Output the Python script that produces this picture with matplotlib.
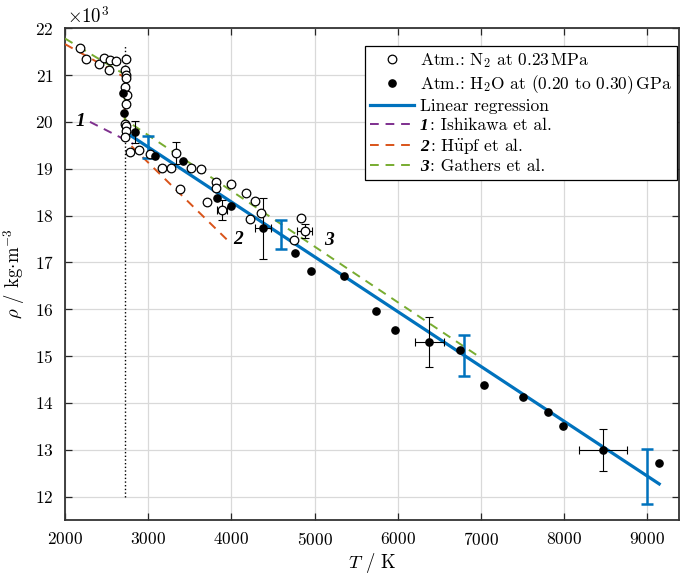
import numpy as np
import matplotlib
matplotlib.use("Agg")
import matplotlib.pyplot as plt
from matplotlib.transforms import IdentityTransform

plt.rcParams['font.family'] = ['cmr10', 'DejaVu Serif']
plt.rcParams['mathtext.fontset'] = 'cm'
plt.rcParams['axes.unicode_minus'] = False
plt.rcParams['axes.formatter.use_mathtext'] = True

# N2 atmosphere (open circles), rho in 10^3 kg/m^3
n2_T = [2179, 2247, 2407, 2467, 2539, 2527, 2619,
        2736, 2716, 2730, 2732, 2722, 2748, 2730, 2722, 2735, 2730, 2722,
        2784, 2887, 3019, 3167, 3279, 3339, 3516, 3636, 3387, 3820, 3820,
        4000, 4176, 4288, 3708, 3888, 4356, 4228, 4748, 4840, 4880]
n2_rho = [21.58, 21.35, 21.23, 21.37, 21.32, 21.10, 21.30,
          21.35, 21.10, 21.00, 20.93, 20.75, 20.57, 20.39, 19.96, 19.91, 19.80, 19.68,
          19.36, 19.41, 19.32, 19.02, 19.02, 19.34, 19.02, 19.00, 18.57, 18.71, 18.58,
          18.68, 18.48, 18.32, 18.29, 18.12, 18.05, 17.93, 17.47, 17.95, 17.68]
# N2 points with error bars
n2e_T = [3339, 3888, 4880]
n2e_rho = [19.34, 18.12, 17.68]
n2e_dT = [0, 60, 90]
n2e_drho = [0.23, 0.21, 0.15]

# H2O atmosphere (filled circles)
h2o_T = [2695, 2707, 2840, 3087, 3420, 3828, 3996, 4380, 4768, 4960, 5348,
         5740, 5965, 6380, 6749, 7037, 7509, 7809, 7989, 8469, 9141]
h2o_rho = [20.61, 20.20, 19.78, 19.28, 19.17, 18.38, 18.21, 17.73, 17.21, 16.82, 16.71,
           15.97, 15.55, 15.30, 15.14, 14.38, 14.13, 13.81, 13.50, 13.00, 12.71]
h2oe_T = [2840, 4380, 6380, 8469]
h2oe_rho = [19.78, 17.73, 15.30, 13.00]
h2oe_dT = [0, 100, 170, 290]
h2oe_drho = [0.23, 0.65, 0.54, 0.445]

# linear regression and its uncertainty
T_melt = 2719
reg_T = [2719, 9142]
reg_rho = [19.79, 12.27]
reg_err_T = [3000, 4600, 6800, 9000]
reg_err_half = [0.24, 0.31, 0.43, 0.59]

# literature
ishikawa_T = [2300, 2820]
ishikawa_rho = [20.00, 19.53]
hupf_T = [2000, 2719, 2719, 3950]
hupf_rho = [21.66, 20.95, 19.62, 17.48]
gathers_T = [2000, 2719, 2719, 7000]
gathers_rho = [21.78, 21.01, 20.05, 14.96]

ref_nums = ['1', '2', '3']
ref_label_T = [2180, 4085, 5175]
ref_label_rho = [20.0, 17.48, 17.46]

blue = '#0072BD'
orange = '#D95319'
green = '#77AC30'
purple = '#7E2F8E'
num_font = dict(family='Liberation Serif', style='italic', weight='bold')

fig = plt.figure(figsize=(6.8, 5.76), dpi=100)
ax = fig.add_axes([65 / 680, 1 - 520 / 576, 614 / 680, (520 - 28.2) / 576])

ax.plot([T_melt, T_melt], [12.0, 21.65], ls=':', color='black', lw=1.0, zorder=2)

dash = (0, (4.5, 3.5))
ax.plot(ishikawa_T, ishikawa_rho, ls=dash, color=purple, lw=1.4, zorder=3,
        label=': Ishikawa et al.')
ax.plot(hupf_T, hupf_rho, ls=dash, color=orange, lw=1.4, zorder=3,
        label=r': H$\ddot{\mathrm{u}}$pf et al.')
ax.plot(gathers_T, gathers_rho, ls=dash, color=green, lw=1.4, zorder=3,
        label=': Gathers et al.')

ax.plot(reg_T, reg_rho, color=blue, lw=2.3, zorder=4, label='Linear regression')
slope = (reg_rho[1] - reg_rho[0]) / (reg_T[1] - reg_T[0])
reg_err_rho = [reg_rho[0] + slope * (t - reg_T[0]) for t in reg_err_T]
ax.errorbar(reg_err_T, reg_err_rho, yerr=reg_err_half, fmt='none', ecolor=blue,
            elinewidth=1.8, capsize=4, capthick=1.8, zorder=4)

ax.errorbar(n2e_T, n2e_rho, xerr=n2e_dT, yerr=n2e_drho, fmt='none', ecolor='black',
            elinewidth=0.8, capsize=3, capthick=0.8, zorder=5)
ax.errorbar(h2oe_T, h2oe_rho, xerr=h2oe_dT, yerr=h2oe_drho, fmt='none', ecolor='black',
            elinewidth=0.8, capsize=3, capthick=0.8, zorder=5)

ax.plot(n2_T, n2_rho, 'o', ms=6.2, mfc='white', mec='black', mew=0.9, zorder=6,
        label=r'Atm.: N$_2$ at 0.23$\,$MPa')
ax.plot(h2o_T, h2o_rho, 'o', ms=5.2, mfc='black', mec='black', zorder=7,
        label=r'Atm.: H$_2$O at (0.20 to 0.30)$\,$GPa$\enspace$')

for s, t, r in zip(ref_nums, ref_label_T, ref_label_rho):
    ax.text(t, r, s, fontsize=14, ha='center', va='center', **num_font)

ax.set_xlim(2000, 9380)
ax.set_ylim(11.5, 22)
ax.set_xticks(np.arange(2000, 9001, 1000))
ax.set_yticks(np.arange(12, 23, 1))
ax.grid(True, color='#d9d9d9', lw=0.9, zorder=0)
ax.set_axisbelow(True)
ax.tick_params(direction='in', length=5, width=0.9, top=True, right=True,
               labelsize=12.5, color='#262626', pad=8)
for s in ax.spines.values():
    s.set_color('#333333')
    s.set_linewidth(1.3)

ax.set_xlabel(r'$T$ / K', fontsize=13.5, labelpad=2)
ax.set_ylabel(r'$\rho$ / kg$\cdot$m$^{-3}$', fontsize=13.5, labelpad=6)
ax.text(0.003, 1.002, r'$\times10^3$', transform=ax.transAxes, fontsize=13.5,
        ha='left', va='bottom')

handles, labels = ax.get_legend_handles_labels()
order = [4, 5, 3, 0, 1, 2]
leg = ax.legend([handles[i] for i in order], [labels[i] for i in order],
                loc='upper right', bbox_to_anchor=(0.9967, 0.964), fontsize=12.5,
                fancybox=False, framealpha=1, edgecolor='black', handlelength=2.5,
                handletextpad=0.35, labelspacing=0.18, borderpad=0.3,
                borderaxespad=0)
leg.get_frame().set_linewidth(0.9)

# italic reference numbers in front of the literature labels,
# the label text is pushed right by the width of the number
fig.canvas.draw()
renderer = fig.canvas.get_renderer()
for t, s in zip(leg.get_texts()[3:], ref_nums):
    x, y = t.get_transform().transform(t.get_position())
    bb = t.get_window_extent(renderer)
    num = fig.text(bb.x0, y, s, transform=IdentityTransform(), fontsize=12.5,
                   ha='left', va='baseline', zorder=10, **num_font)
    w = num.get_window_extent(renderer).width
    t.set_position((w + 1, 0))

fig.savefig('out.png', dpi=100)
